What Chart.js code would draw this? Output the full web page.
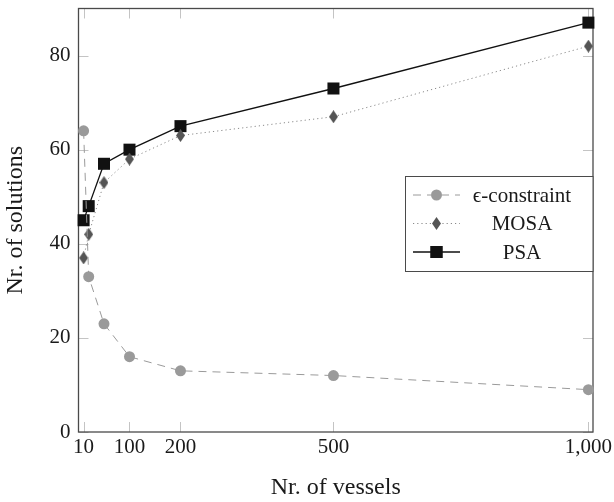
<!DOCTYPE html>
<html><head><meta charset="utf-8">
<script src="https://cdn.jsdelivr.net/npm/chart.js@4/dist/chart.umd.min.js"></script>
<style>html,body{margin:0;padding:0;background:#fff}</style>
</head><body>
<canvas id="c" width="614" height="502"></canvas>
<script>
const vessels = [10, 20, 50, 100, 200, 500, 1000];
const epsConstraint = [64, 33, 23, 16, 13, 12, 9];
const mosa = [37, 42, 53, 58, 63, 67, 82];
const psa = [45, 48, 57, 60, 65, 73, 87];
const xTicks = [10, 100, 200, 500, 1000];
const yTicks = [0, 20, 40, 60, 80];
const seriesNames = ['\u03f5-constraint', 'MOSA', 'PSA'];
const xTitle = 'Nr. of vessels';
const yTitle = 'Nr. of solutions';

const FONT = '"Liberation Serif", "DejaVu Serif", serif';

function diamond(w, h, color) {
  const c = document.createElement('canvas');
  c.width = w; c.height = h;
  const g = c.getContext('2d');
  g.fillStyle = color;
  g.beginPath();
  g.moveTo(w / 2, 0); g.lineTo(w, h / 2); g.lineTo(w / 2, h); g.lineTo(0, h / 2);
  g.closePath(); g.fill();
  return c;
}
const diamondImg = diamond(9, 13, '#555555');

function pts(ys) { return vessels.map((x, i) => ({ x: x, y: ys[i] })); }

const frame = {
  id: 'frame',
  beforeDatasetsDraw(chart) {
    const { ctx, chartArea: a, scales: { x, y } } = chart;
    ctx.save();
    ctx.strokeStyle = '#c4c4c4';
    ctx.lineWidth = 1;
    const L = 10;
    xTicks.forEach(v => {
      const px = Math.round(x.getPixelForValue(v)) + 0.5;
      ctx.beginPath();
      ctx.moveTo(px, a.bottom); ctx.lineTo(px, a.bottom - L);
      ctx.moveTo(px, a.top); ctx.lineTo(px, a.top + L);
      ctx.stroke();
    });
    yTicks.forEach(v => {
      const py = Math.round(y.getPixelForValue(v)) + 0.5;
      ctx.beginPath();
      ctx.moveTo(a.left, py); ctx.lineTo(a.left + L, py);
      ctx.moveTo(a.right, py); ctx.lineTo(a.right - L, py);
      ctx.stroke();
    });
    ctx.strokeStyle = '#4a4a4a';
    ctx.lineWidth = 1.3;
    ctx.strokeRect(a.left, a.top, a.right - a.left, a.bottom - a.top);
    ctx.restore();
  }
};

const legendBox = {
  id: 'legendBox',
  afterDraw(chart) {
    const { ctx, chartArea: a } = chart;
    const bx = 405.5, by = 176.5, bw = a.right - 405.5, bh = 95;
    ctx.save();
    ctx.fillStyle = '#fff';
    ctx.fillRect(bx, by, bw, bh);
    ctx.strokeStyle = '#4a4a4a';
    ctx.lineWidth = 1;
    ctx.strokeRect(bx, by, bw, bh);
    const rows = [195, 223.5, 252];
    chart.data.datasets.forEach((ds, i) => {
      const yy = rows[i];
      ctx.save();
      ctx.strokeStyle = ds.borderColor;
      ctx.lineWidth = ds.borderWidth;
      ctx.setLineDash(ds.borderDash || []);
      ctx.beginPath();
      ctx.moveTo(413, yy); ctx.lineTo(460, yy);
      ctx.stroke();
      ctx.restore();
      Chart.helpers.drawPoint(ctx, {
        pointStyle: ds.pointStyle, radius: ds.pointRadius, rotation: 0,
        borderWidth: ds.pointBorderWidth || 0
      }, 436.5, yy);
      ctx.fillStyle = ds.pointBackgroundColor;
      ctx.strokeStyle = ds.pointBorderColor;
      if (ds.pointStyle === 'circle' || ds.pointStyle === 'rect') {
        ctx.beginPath();
        if (ds.pointStyle === 'circle') ctx.arc(436.5, yy, ds.pointRadius, 0, Math.PI * 2);
        else { const s = ds.pointRadius * Math.SQRT1_2; ctx.rect(436.5 - s, yy - s, 2 * s, 2 * s); }
        ctx.fill();
      }
      ctx.fillStyle = '#1a1a1a';
      ctx.font = '21px ' + FONT;
      ctx.textAlign = 'center';
      ctx.textBaseline = 'middle';
      ctx.fillText(ds.label, 522, yy + 1);
    });
    ctx.restore();
  }
};

new Chart(document.getElementById('c'), {
  type: 'line',
  data: {
    datasets: [
      {
        label: seriesNames[0], data: pts(epsConstraint),
        borderColor: '#9a9a9a', borderWidth: 1, borderDash: [8, 6],
        pointStyle: 'circle', pointRadius: 5.5,
        pointBackgroundColor: '#9a9a9a', pointBorderColor: '#9a9a9a', pointBorderWidth: 0,
        clip: false
      },
      {
        label: seriesNames[1], data: pts(mosa),
        borderColor: '#8a8a8a', borderWidth: 1, borderDash: [1.2, 3],
        pointStyle: diamondImg, pointRadius: 6,
        pointBackgroundColor: '#555', pointBorderColor: '#555', pointBorderWidth: 0,
        clip: false
      },
      {
        label: seriesNames[2], data: pts(psa),
        borderColor: '#111', borderWidth: 1.3,
        pointStyle: 'rect', pointRadius: 8.5,
        pointBackgroundColor: '#111', pointBorderColor: '#111', pointBorderWidth: 0,
        clip: false
      }
    ]
  },
  options: {
    responsive: false,
    animation: false,
    devicePixelRatio: 1,
    layout: { padding: { left: 0, top: 0, right: 21, bottom: 0 } },
    plugins: { legend: { display: false }, tooltip: { enabled: false } },
    elements: { line: { tension: 0 } },
    scales: {
      x: {
        type: 'linear', min: 0, max: 1009,
        afterBuildTicks: s => { s.ticks = xTicks.map(v => ({ value: v })); },
        afterFit: s => { s.height = 70; s.paddingLeft = 0; s.paddingRight = 0; },
        grid: { display: false, drawTicks: false },
        border: { display: false },
        ticks: {
          autoSkip: false, maxRotation: 0, padding: 3,
          color: '#1a1a1a', font: { family: FONT, size: 21 },
          callback: v => Number(v).toLocaleString('en-US')
        },
        title: {
          display: true, text: xTitle, color: '#1a1a1a',
          font: { family: FONT, size: 24 }, padding: { top: 0, bottom: 0 }
        }
      },
      y: {
        type: 'linear', min: 0, max: 90,
        afterBuildTicks: s => { s.ticks = yTicks.map(v => ({ value: v })); },
        afterFit: s => { s.width = 78.5; s.paddingTop = 0; s.paddingBottom = 0; },
        grid: { display: false, drawTicks: false },
        border: { display: false },
        ticks: {
          padding: 8, color: '#1a1a1a', font: { family: FONT, size: 21 }
        },
        title: {
          display: true, text: yTitle, color: '#1a1a1a',
          font: { family: FONT, size: 24 }, padding: { top: 1, bottom: 0 }
        }
      }
    }
  },
  plugins: [frame, legendBox]
});
</script>
</body></html>
